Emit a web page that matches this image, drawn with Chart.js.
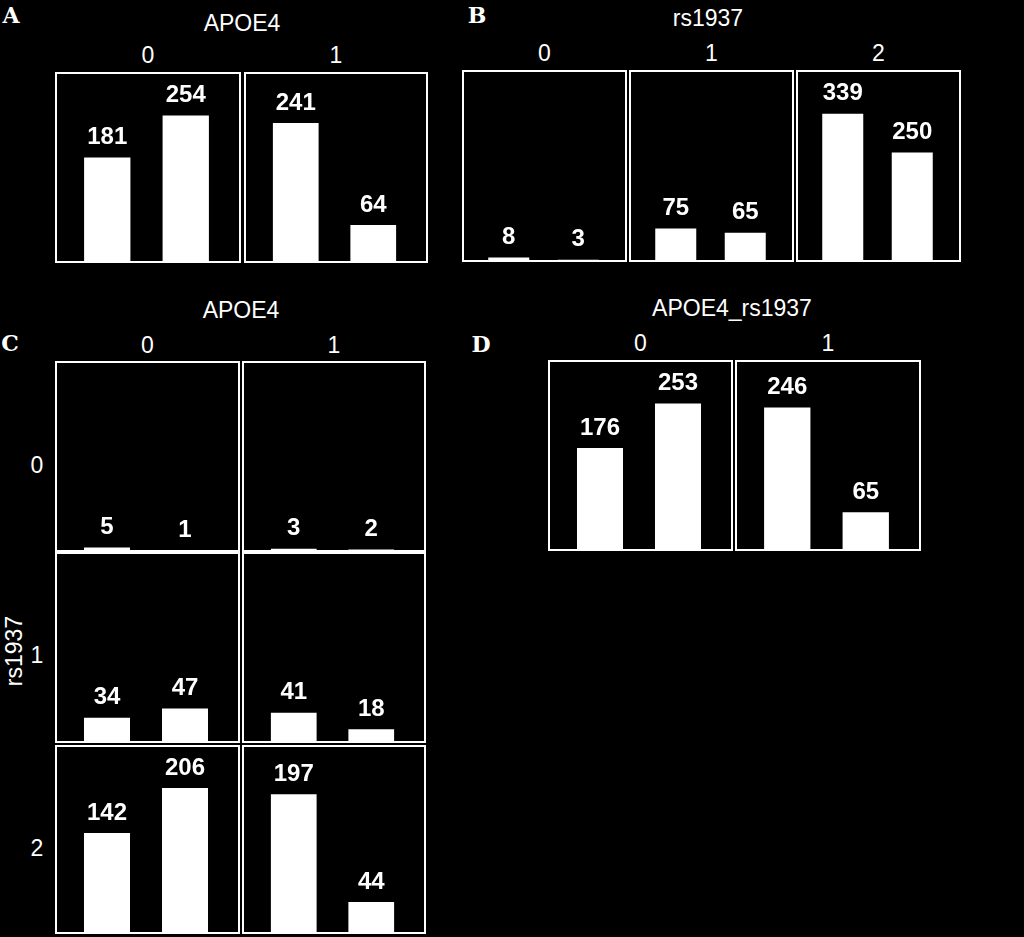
<!DOCTYPE html>
<html>
<head>
<meta charset="utf-8">
<script src="https://cdn.jsdelivr.net/npm/chart.js@4"></script>
<style>
  html, body { margin: 0; padding: 0; background: #000; }
  #page { position: relative; width: 1024px; height: 937px; background: #000; overflow: hidden; }
  .cell { position: absolute; }
  .txt {
    position: absolute; color: #fff; white-space: nowrap;
    font-family: "Liberation Sans", Arial, sans-serif; font-size: 23px;
    transform: translate(-50%, -50%); line-height: 1;
  }
  .letter { font-family: "DejaVu Serif", "Liberation Serif", serif; font-weight: bold; font-size: 22px; }
  .rot { transform: translate(-50%, -50%) rotate(-90deg); }
</style>
</head>
<body>
<div id="page"></div>
<script>
// two bars per cell
const barGroups = ["1", "2"];

// A: by APOE4 (0, 1)
const apoeLevels = ["0", "1"];
const panelA = [[181, 254], [241, 64]];

// B: by rs1937 (0, 1, 2)
const rsLevels = ["0", "1", "2"];
const panelB = [[8, 3], [75, 65], [339, 250]];

// C: rows rs1937 0..2, columns APOE4 0..1
const panelC = [
  [[5, 1], [3, 2]],
  [[34, 47], [41, 18]],
  [[142, 206], [197, 44]]
];

// D: by APOE4_rs1937 (0, 1)
const comboLevels = ["0", "1"];
const panelD = [[176, 253], [246, 65]];

const page = document.getElementById("page");

function addText(str, x, y, cls) {
  const d = document.createElement("div");
  d.className = "txt" + (cls ? " " + cls : "");
  d.textContent = str;
  d.style.left = x + "px";
  d.style.top = y + "px";
  page.appendChild(d);
}

const framePlugin = {
  id: "frame",
  afterDraw(chart) {
    const ctx = chart.ctx;
    ctx.save();
    ctx.strokeStyle = "#fff";
    ctx.lineWidth = 2;
    ctx.strokeRect(1, 1, chart.width - 2, chart.height - 2);
    ctx.restore();
  }
};

const valueLabels = {
  id: "valueLabels",
  afterDatasetsDraw(chart) {
    const ctx = chart.ctx;
    ctx.save();
    ctx.fillStyle = "#fff";
    ctx.font = "bold 24px 'Liberation Sans', Arial, sans-serif";
    ctx.textAlign = "center";
    ctx.textBaseline = "bottom";
    const meta = chart.getDatasetMeta(0);
    meta.data.forEach((bar, i) => {
      ctx.fillText(chart.data.datasets[0].data[i], bar.x, bar.y - 8);
    });
    ctx.restore();
  }
};

function addCell(values, yMax, x0, y0, x1, y1) {
  const w = x1 - x0, h = y1 - y0;
  const div = document.createElement("div");
  div.className = "cell";
  div.style.left = x0 + "px";
  div.style.top = y0 + "px";
  div.style.width = w + "px";
  div.style.height = h + "px";
  const canvas = document.createElement("canvas");
  div.appendChild(canvas);
  page.appendChild(div);

  new Chart(canvas, {
    type: "bar",
    data: {
      labels: barGroups,
      datasets: [{
        data: values,
        backgroundColor: "#fff",
        borderWidth: 0,
        categoryPercentage: 1,
        barPercentage: 0.59
      }]
    },
    options: {
      responsive: true,
      maintainAspectRatio: false,
      animation: false,
      layout: { padding: { left: Math.round(w * 0.0715), right: Math.round(w * 0.0865), top: 1, bottom: 1 } },
      plugins: { legend: { display: false }, tooltip: { enabled: false } },
      scales: {
        x: { display: false },
        y: { display: false, min: 0, max: yMax }
      }
    },
    plugins: [framePlugin, valueLabels]
  });
}

const headroom = 1.29;

// Panel A
addText("A", 11, 15, "letter");
addText("APOE4", 242, 23);
const aMax = Math.max(...panelA.flat()) * headroom;
const aCols = [[55, 241], [244, 428]];
apoeLevels.forEach((lv, i) => {
  addText(lv, (aCols[i][0] + aCols[i][1]) / 2, 55);
  addCell(panelA[i], aMax, aCols[i][0], 72, aCols[i][1], 263);
});

// Panel B
addText("B", 477, 15, "letter");
addText("rs1937", 708, 18);
const bMax = Math.max(...panelB.flat()) * headroom;
const bCols = [[462, 627], [629, 794], [796, 961]];
rsLevels.forEach((lv, i) => {
  addText(lv, (bCols[i][0] + bCols[i][1]) / 2, 53);
  addCell(panelB[i], bMax, bCols[i][0], 70, bCols[i][1], 262);
});

// Panel C
addText("C", 10, 343, "letter");
addText("APOE4", 241, 310);
addText("rs1937", 14, 651, "rot");
const cMax = Math.max(...panelC.flat(2)) * headroom;
const cCols = [[55, 240], [242, 426]];
const cRows = [[361, 552], [552, 743], [745, 934]];
apoeLevels.forEach((lv, j) => addText(lv, (cCols[j][0] + cCols[j][1]) / 2, 345));
const rowLabelY = [465, 655, 848];
rsLevels.forEach((lv, r) => {
  addText(lv, 37, rowLabelY[r]);
  apoeLevels.forEach((_, j) => {
    addCell(panelC[r][j], cMax, cCols[j][0], cRows[r][0], cCols[j][1], cRows[r][1]);
  });
});

// Panel D
addText("D", 481, 344, "letter");
addText("APOE4_rs1937", 732, 308);
const dMax = Math.max(...panelD.flat()) * headroom;
const dCols = [[548, 733], [735, 921]];
comboLevels.forEach((lv, i) => {
  addText(lv, (dCols[i][0] + dCols[i][1]) / 2, 343);
  addCell(panelD[i], dMax, dCols[i][0], 360, dCols[i][1], 551);
});
</script>
</body>
</html>
